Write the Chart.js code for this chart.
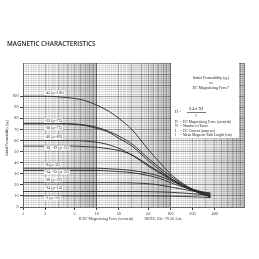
<!DOCTYPE html>
<html>
<head>
<meta charset="utf-8">
<script src="https://cdn.jsdelivr.net/npm/chart.js@4.4.1/dist/chart.umd.min.js"></script>
<style>
  html, body { margin: 0; padding: 0; background: #fff; }
</style>
</head>
<body>
<canvas id="chart" width="259" height="259"></canvas>
<script>
// DC magnetizing force (oersteds) where the curves were read
const force = [1, 2, 3, 5, 7, 10, 15, 20, 30, 50, 70, 100, 150, 200, 300, 350];

// initial permeability
const mix45 = [100, 100, 99.5, 98, 96, 92, 86, 80, 70, 52, 41, 30, 21, 16, 11.5, 10];
const mix52 = [75.5, 75.5, 75.5, 75, 74, 72, 68, 64, 57, 44, 36, 28, 20, 15.5, 11, 9.5];
const mix26 = [75, 75, 75, 74.5, 73.5, 71, 67, 62, 55, 42, 34, 26, 19, 15, 10.5, 9];
const mix40 = [60, 60, 60, 60, 59.5, 58.5, 56, 53, 47, 37, 31, 25, 18.5, 15, 11, 10];
const mix18 = [55, 55, 55, 55, 54.5, 54, 52.5, 51, 47, 38, 32, 26, 19.5, 16, 12, 11];
const mix8 = [35, 35, 35, 35, 35, 35, 34.5, 34, 33, 30.5, 28, 24, 19, 16, 13, 12.5];
const mix34 = [33, 33, 33, 33, 33, 33, 32.5, 32, 31, 28.5, 26, 22, 18, 15.5, 13, 12.5];
const mix28 = [22, 22, 22, 22, 22, 22, 22, 22, 21.8, 21, 20, 18, 16, 14.5, 12.5, 12];
const mix14 = [14, 14, 14, 14, 14, 14, 14, 14, 14, 13.9, 13.7, 13.3, 12.6, 12, 11, 10.5];
const mix2 = [10, 10, 10, 10, 10, 10, 10, 10, 10, 10, 9.9, 9.8, 9.5, 9.2, 8.8, 8.5];

const curveNames = ["-45 (\u00b5=100)", "-52 (\u00b5=75)", "-26 (\u00b5=75)", "-40 (\u00b5=60)", "-18, -19 (\u00b5=55)",
  "-8 (\u00b5=35)", "-34, -35 (\u00b5=33)", "-28 (\u00b5=22)", "-14 (\u00b5=14)", "-2 (\u00b5=10)"];
const curves = [mix45, mix52, mix26, mix40, mix18, mix8, mix34, mix28, mix14, mix2];

const xTickLabels = [1, 2, 5, 10, 20, 50, 100, 200, 400];
const yTickLabels = [0, 10, 20, 30, 40, 50, 60, 70, 80, 90, 100];

// label placement: oersted value of the label's left edge, and shift in µ from the line
const labelAt = 2.0;
const labelShift = [3, 2.4, -3.4, 3.2, -1.5, 2.9, -1.4, 2.3, 3.2, -1.9];

// graph-paper lines
const xGrid = [];
[1, 10, 100].forEach((d) => {
  for (let m = 10; m < 100; m++) xGrid.push(+(m / 10 * d).toFixed(3));
});
xGrid.push(1000);
const yGrid = [];
for (let v = 0; v <= 130; v += 2) yGrid.push(v);

const near = (list, v) => list.some((t) => Math.abs(t - v) < 1e-6 * Math.max(1, t));

const xLineColor = (v) => {
  const m = v / Math.pow(10, Math.floor(Math.log10(v) + 1e-9));
  if (Math.abs(m - 1) < 1e-6) return "rgba(0,0,0,0.5)";
  if (Math.abs(m - Math.round(m)) < 1e-6) return "rgba(0,0,0,0.26)";
  return "rgba(0,0,0,0.09)";
};

const serif = "'Liberation Serif', 'DejaVu Serif', serif";

const textPlugin = {
  id: "texts",
  beforeDatasetsDraw(chart) {
    const { ctx, chartArea: ca } = chart;
    ctx.save();
    // white panel for the legend text
    const px = ca.right - 73, py = ca.top;
    ctx.fillStyle = "#fff";
    ctx.fillRect(px, py, 68, 75);
    ctx.fillStyle = "#222";
    ctx.font = "3.8px " + serif;
    ctx.textAlign = "center";
    ctx.textBaseline = "middle";
    const cx = px + 40;
    ctx.fillText("Initial Permeability (\u00b5\u2080)", cx, py + 15);
    ctx.fillText("vs", cx, py + 20);
    ctx.fillText("DC Magnetizing Force*", cx, py + 25);
    // formula
    ctx.textAlign = "left";
    ctx.font = "4.2px " + serif;
    ctx.fillText("H =", px + 4, py + 49);
    ctx.textAlign = "center";
    ctx.fillText("0.4 \u03c0 NI", px + 25, py + 46);
    ctx.fillText("l", px + 25, py + 52.5);
    ctx.fillRect(px + 16, py + 49, 19, 0.6);
    ctx.textAlign = "left";
    ctx.font = "3.6px " + serif;
    const defs = [["H", "DC Magnetizing Force (oersteds)"], ["N", "Number of Turns"],
      ["I", "DC Current (amperes)"], ["l", "Mean Magnetic Path Length (cm)"]];
    defs.forEach((d, i) => {
      ctx.fillText(d[0], px + 4, py + 59 + i * 4.4);
      ctx.fillText("= " + d[1], px + 9, py + 59 + i * 4.4);
    });
    ctx.restore();
  },
  afterDatasetsDraw(chart) {
    const { ctx } = chart;
    const xs = chart.scales.x, ys = chart.scales.y;
    ctx.save();
    ctx.font = "3.8px " + serif;
    ctx.textBaseline = "middle";
    ctx.textAlign = "left";
    curves.forEach((c, i) => {
      const x = xs.getPixelForValue(labelAt);
      const y = ys.getPixelForValue(c[0] + labelShift[i]);
      const w = ctx.measureText(curveNames[i]).width;
      ctx.fillStyle = "#fff";
      ctx.fillRect(x - 1, y - 2.2, w + 2, 4.4);
      ctx.fillStyle = "#222";
      ctx.fillText(curveNames[i], x, y);
    });
    ctx.restore();
  },
  afterDraw(chart) {
    const { ctx, chartArea: ca } = chart;
    ctx.save();
    ctx.fillStyle = "#1e1e1e";
    ctx.font = "600 6.3px 'Open Sans', sans-serif";
    ctx.textBaseline = "middle";
    ctx.textAlign = "left";
    ctx.fillText("MAGNETIC CHARACTERISTICS", 7, 44);
    ctx.fillStyle = "#333";
    ctx.font = "3.8px " + serif;
    ctx.textAlign = "center";
    ctx.fillText("H DC Magnetizing Force (oersteds)", ca.left + 83, ca.bottom + 12.5);
    ctx.fillText("NOTE: 1Oe=79.58 A/m", ca.left + 140, ca.bottom + 12.5);
    ctx.translate(7, (ca.top + ca.bottom) / 2 + 3);
    ctx.rotate(-Math.PI / 2);
    ctx.fillText("Initial Permeability (\u00b5\u2080)", 0, 0);
    ctx.restore();
  }
};

new Chart(document.getElementById("chart"), {
  type: "line",
  data: {
    datasets: curves.map((c, i) => ({
      label: curveNames[i],
      data: force.map((h, k) => ({ x: h, y: c[k] })),
      borderColor: "#2a2a2a",
      borderWidth: 0.9,
      pointRadius: 0,
      cubicInterpolationMode: "monotone",
      fill: false
    }))
  },
  options: {
    responsive: false,
    devicePixelRatio: 1,
    animation: false,
    layout: { padding: { left: 0, top: 63, right: 15, bottom: 32 } },
    plugins: { legend: { display: false }, title: { display: false }, tooltip: { enabled: false } },
    scales: {
      x: {
        type: "logarithmic",
        min: 1,
        max: 1000,
        afterBuildTicks: (s) => { s.ticks = xGrid.map((v) => ({ value: v })); },
        afterFit: (s) => { s.height = 20; },
        ticks: {
          autoSkip: false,
          maxRotation: 0,
          padding: 1,
          color: "#333",
          font: { size: 4.2, family: serif },
          callback: (v) => (near(xTickLabels, v) ? String(Math.round(v)) : "")
        },
        grid: {
          color: (ctx) => xLineColor(ctx.tick.value),
          lineWidth: 1,
          tickLength: 3,
          tickColor: (ctx) => (near(xTickLabels, ctx.tick.value) ? "#444" : "rgba(0,0,0,0)")
        },
        border: { display: true, color: "#666", width: 1 }
      },
      y: {
        min: 0,
        max: 130,
        afterBuildTicks: (s) => { s.ticks = yGrid.map((v) => ({ value: v })); },
        afterFit: (s) => { s.width = 23; },
        ticks: {
          autoSkip: false,
          padding: 1.5,
          color: "#333",
          font: { size: 4.2, family: serif },
          callback: (v) => (yTickLabels.includes(v) ? String(v) : "")
        },
        grid: {
          color: (ctx) => (ctx.tick.value % 10 === 0 ? "rgba(0,0,0,0.34)" : "rgba(0,0,0,0.13)"),
          lineWidth: 1,
          tickLength: 3,
          tickColor: (ctx) => (yTickLabels.includes(ctx.tick.value) ? "#444" : "rgba(0,0,0,0)")
        },
        border: { display: true, color: "#666", width: 1 }
      }
    }
  },
  plugins: [textPlugin]
});
</script>
</body>
</html>
